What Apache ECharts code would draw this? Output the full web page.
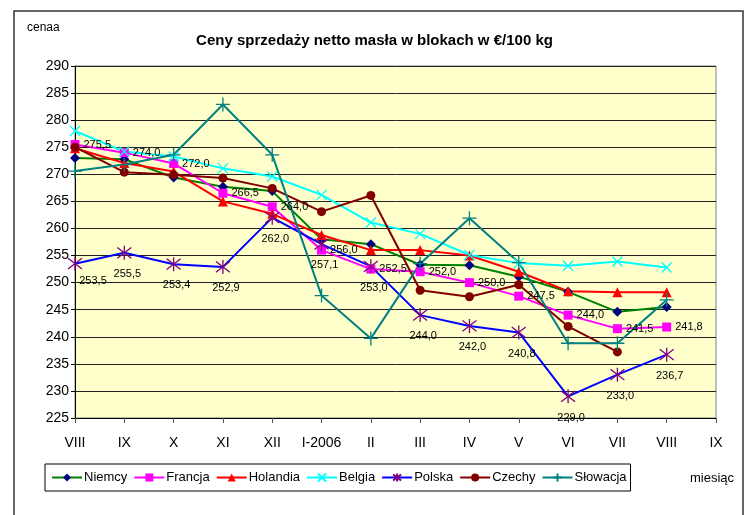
<!DOCTYPE html>
<html>
<head>
<meta charset="utf-8">
<script src="https://cdn.jsdelivr.net/npm/echarts@6/dist/echarts.min.js"></script>
<style>
  html, body { margin: 0; padding: 0; background: #fff; }
  #chart { width: 749px; height: 515px; }
</style>
</head>
<body>
<div id="chart"></div>
<script>
var months = ['VIII', 'IX', 'X', 'XI', 'XII', 'I-2006', 'II', 'III', 'IV', 'V', 'VI', 'VII', 'VIII', 'IX'];

var niemcy   = [273.0, 272.8, 269.4, 267.7, 266.9, 258.0, 257.1, 253.3, 253.2, 251.1, 248.3, 244.6, 245.5];
var francja  = [275.5, 274.0, 272.0, 266.5, 264.0, 256.0, 252.5, 252.0, 250.0, 247.5, 244.0, 241.5, 241.8];
var holandia = [274.8, 272.1, 270.5, 265.0, 262.7, 258.8, 256.0, 256.0, 255.0, 252.0, 248.4, 248.2, 248.2];
var belgia   = [278.0, 274.2, 273.3, 271.1, 269.6, 266.2, 261.1, 259.0, 255.1, 253.6, 253.1, 253.9, 252.8];
var polska   = [253.5, 255.5, 253.4, 252.9, 262.0, 257.1, 253.0, 244.0, 242.0, 240.8, 229.0, 233.0, 236.7];
var czechy   = [275.0, 270.4, 269.9, 269.3, 267.4, 263.1, 266.1, 248.6, 247.4, 249.6, 241.9, 237.2];
var slowacja = [270.6, 271.8, 273.6, 282.9, 273.6, 247.6, 239.7, 253.5, 261.9, 253.7, 238.8, 238.8, 246.8];

var FONT = '"Liberation Sans Narrow", "Liberation Sans", Arial, sans-serif';

function fmt(p) {
  return p.value.toFixed(1).replace('.', ',');
}

function line(name, data, lineColor, markColor, symbol, size, stroke) {
  return {
    name: name,
    type: 'line',
    data: data,
    symbol: symbol,
    symbolSize: size,
    lineStyle: { color: lineColor, width: 2 },
    itemStyle: stroke
      ? { color: markColor, borderColor: markColor, borderWidth: 1.3 }
      : { color: markColor },
    emphasis: { disabled: true },
    animation: false
  };
}

var xPath = 'path://M0,0L10,10M10,0L0,10';
var starPath = 'path://M0,0L10,10M10,0L0,10M5,-1.5L5,11.5';
var plusPath = 'path://M5,0L5,10M0,5L10,5';

var series = [
  line('Niemcy', niemcy, '#008000', '#000080', 'diamond', 10),
  line('Francja', francja, '#FF00FF', '#FF00FF', 'rect', 9),
  line('Holandia', holandia, '#FF0000', '#FF0000', 'triangle', 10),
  line('Belgia', belgia, '#00FFFF', '#00FFFF', xPath, 10, true),
  line('Polska', polska, '#0000FF', '#800080', starPath, 14, true),
  line('Czechy', czechy, '#800000', '#800000', 'circle', 9),
  line('Słowacja', slowacja, '#008080', '#008080', plusPath, 14, true)
];

series[1].label = {
  show: true, position: 'right', distance: 4, formatter: fmt,
  fontFamily: FONT, fontSize: 11, color: '#000'
};
series[4].label = {
  show: true, position: 'bottom', distance: 8, offset: [3, 0], formatter: fmt,
  fontFamily: FONT, fontSize: 11, color: '#000'
};
// first Polska label sits right of the y axis
series[4].data = polska.map(function (v, i) {
  return i === 0 ? { value: v, label: { offset: [18, -4] } } : v;
});

var chart = echarts.init(document.getElementById('chart'));
chart.setOption({
  animation: false,
  backgroundColor: '#fff',
  textStyle: { fontFamily: FONT },
  title: {
    text: 'Ceny sprzedaży netto masła w blokach w €/100 kg',
    left: 'center',
    top: 28,
    textStyle: { fontFamily: FONT, fontSize: 15, fontWeight: 'bold', color: '#000' }
  },
  grid: {
    left: 75, right: 33, top: 66, bottom: 97,
    show: true, backgroundColor: '#FFFFCC', borderColor: '#808080', borderWidth: 1
  },
  legend: {
    left: 45, top: 464,
    padding: [7, 4, 7, 6],
    itemGap: 6,
    itemWidth: 30,
    itemHeight: 10,
    borderColor: '#000',
    borderWidth: 1,
    textStyle: { fontFamily: FONT, fontSize: 13, color: '#000', padding: [0, 0, 0, -3] },
    data: ['Niemcy', 'Francja', 'Holandia', 'Belgia', 'Polska', 'Czechy', 'Słowacja']
  },
  xAxis: {
    type: 'category',
    data: months,
    boundaryGap: false,
    axisLine: { lineStyle: { color: '#000', width: 1 } },
    axisTick: { show: true, interval: 0, length: 5, lineStyle: { color: '#555' } },
    axisLabel: { interval: 0, margin: 18, fontFamily: FONT, fontSize: 14, color: '#000' },
    splitLine: { show: false }
  },
  yAxis: {
    type: 'value',
    min: 225, max: 290, interval: 5,
    axisLine: { show: true, lineStyle: { color: '#000', width: 1 } },
    axisTick: { show: true, length: 4, lineStyle: { color: '#000' } },
    axisLabel: { margin: 6, fontFamily: FONT, fontSize: 14, color: '#000' },
    splitLine: { show: true, lineStyle: { color: '#222', width: 1 } }
  },
  graphic: [
    { type: 'rect', shape: { x: 14, y: 11, width: 729, height: 520 },
      style: { fill: 'none', stroke: '#333', lineWidth: 1.5 }, silent: true },
    { type: 'text', left: 27, top: 22,
      style: { text: 'cenaa', font: '12px ' + FONT, fill: '#000' } },
    { type: 'text', left: 690, top: 472,
      style: { text: 'miesiąc', font: '13px ' + FONT, fill: '#000' } }
  ],
  series: series
});
</script>
</body>
</html>
